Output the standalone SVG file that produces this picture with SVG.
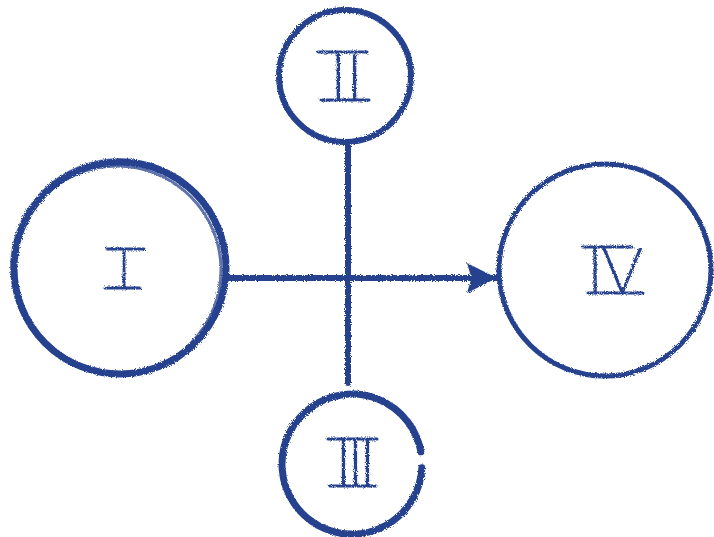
<svg xmlns="http://www.w3.org/2000/svg" width="714" height="537" viewBox="0 0 714 537">
<style>
.ring{fill:none;stroke:#27438f;stroke-linecap:round}
.edge{stroke:#27438f;stroke-width:6;fill:none;stroke-linecap:round}
.lbl{font-family:"Lato","Liberation Sans",sans-serif;font-weight:300;fill:#27438f;text-anchor:middle}
.bar{stroke:#27438f;stroke-width:3;stroke-linecap:round}
</style>
<defs>
<filter id="rough" x="-10%" y="-10%" width="120%" height="120%">
<feTurbulence type="fractalNoise" baseFrequency="0.9" numOctaves="2" seed="3" result="n"/>
<feDisplacementMap in="SourceGraphic" in2="n" scale="3.5"/>
</filter>
<marker id="arr" viewBox="0 0 10 10" refX="10" refY="5" markerWidth="7.5" markerHeight="5" markerUnits="strokeWidth" orient="auto">
<path d="M0,0 L10,5 L0,10 L1.5,5 Z" fill="#27438f"/>
</marker>
</defs>
<rect width="714" height="537" fill="#fff"/>
<g id="connectors" filter="url(#rough)">
<line class="edge" x1="348" y1="143" x2="348" y2="383"/>
<line class="edge" x1="229" y1="278" x2="497" y2="278" marker-end="url(#arr)"/>
</g>
<g id="node-I" filter="url(#rough)">
<circle class="ring" cx="120" cy="268" r="106" stroke-width="7"/>
<circle class="ring" cx="117" cy="270" r="104" stroke-width="3" opacity="0.75"/>
<circle class="ring" cx="119" cy="267" r="108" stroke-width="2" opacity="0.5"/>
<line class="bar" x1="107" y1="249" x2="144" y2="249"/>
<line class="bar" x1="105" y1="288" x2="140" y2="288"/>
<text class="lbl" x="124" y="288" font-size="56">I</text>
</g>
<g id="node-II" filter="url(#rough)">
<circle class="ring" cx="345" cy="76" r="66" stroke-width="6"/>
<line class="bar" x1="318" y1="52" x2="367" y2="52"/>
<line class="bar" x1="321" y1="100" x2="369" y2="100"/>
<text class="lbl" x="346" y="100" font-size="66" letter-spacing="-1">II</text>
</g>
<g id="node-III" filter="url(#rough)">
<path class="ring" d="M421.9,467.7 A70,70 0 1 1 420.9,451.8" stroke-width="7"/>
<line class="bar" x1="328" y1="439" x2="377" y2="439"/>
<line class="bar" x1="330" y1="486" x2="376" y2="486"/>
<text class="lbl" x="353" y="486" font-size="65" letter-spacing="-5">III</text>
</g>
<g id="node-IV" filter="url(#rough)">
<circle class="ring" cx="605" cy="270" r="106" stroke-width="5"/>
<line class="bar" x1="583" y1="247" x2="632" y2="247"/>
<line class="bar" x1="588" y1="293" x2="643" y2="293"/>
<text class="lbl" x="614" y="293" font-size="64" letter-spacing="-2">IV</text>
</g>
</svg>
